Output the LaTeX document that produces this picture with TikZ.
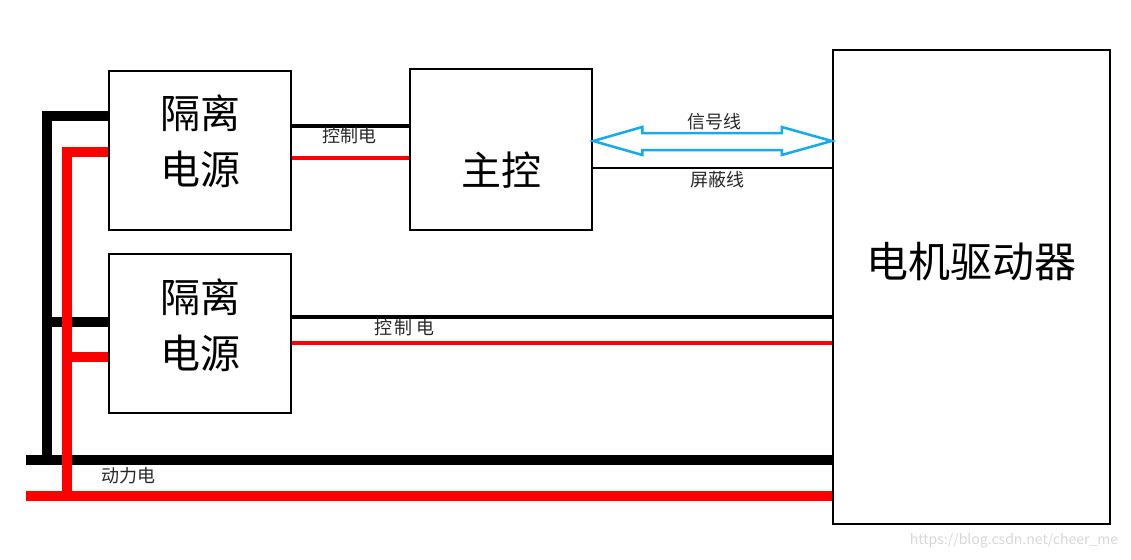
\documentclass[tikz,border=0pt]{standalone}
\usepackage{fontspec}
\newfontfamily\cjk{Noto Sans CJK SC}
\usetikzlibrary{calc}
\definecolor{sig}{RGB}{20,170,235}
\definecolor{wm}{RGB}{215,215,215}
\definecolor{lbl}{RGB}{40,40,40}
\begin{document}
\begin{tikzpicture}[x=1pt,y=-1pt,
  box/.style={draw, line width=2.5pt, inner sep=0pt, fill=white},
  big/.style={font=\cjk\fontsize{40}{56}\selectfont, align=center, inner sep=0pt},
  small/.style={font=\cjk\fontsize{18}{20}\selectfont, text=lbl, inner sep=0pt},
  heavy/.style={line width=10pt, line join=miter},
  ctl/.style={line width=4pt}]
\useasboundingbox (0,0) rectangle (1131,559);

% boxes
\node[box, minimum width=182pt, minimum height=159pt] (iso1) at (200,150.5) {};
\node[box, minimum width=182pt, minimum height=159pt] (iso2) at (200,333.5) {};
\node[box, minimum width=182pt, minimum height=161pt] (main) at (501,149.5) {};
\node[box, minimum width=277pt, minimum height=474pt] (motor) at (971.5,287) {};

\node[big] (iso1t) at ([yshift=9.5pt]iso1.center) {隔离\\电源};
\node[big] (iso2t) at ([yshift=8pt]iso2.center) {隔离\\电源};
\node[big] (maint) at ([yshift=-21pt]main.center) {主控};
\node[big, font=\cjk\fontsize{42}{50}\selectfont] (motort) at ([yshift=25pt]motor.center) {电机驱动器};

% trunk coordinates
\coordinate (kx) at (47,116);
\coordinate (kb) at (26,460);
\coordinate (rx) at (67,152);
\coordinate (rb) at (26,496);
\coordinate (k2) at (47,322);
\coordinate (r2) at (67,357);

% black power
\draw[heavy] (iso1.west |- kx) -- (kx) -- (kx |- kb);
\draw[heavy] (kb) -- (motor.west |- kb);
\draw[heavy] (k2) -- (iso2.west |- k2);
% red power
\draw[heavy, red] (iso1.west |- rx) -- (rx) -- (rx |- rb);
\draw[heavy, red] (rb) -- (motor.west |- rb);
\draw[heavy, red] (r2) -- (iso2.west |- r2);

% control wires
\draw[ctl] (iso1.east |- 0,126) -- (main.west |- 0,126);
\draw[ctl, red] (iso1.east |- 0,158) -- (main.west |- 0,158);
\draw[ctl] (iso2.east |- 0,317) -- (motor.west |- 0,317);
\draw[ctl, red] (iso2.east |- 0,343) -- (motor.west |- 0,343);

% shield wire
\draw[line width=2pt] (main.east |- 0,168) -- (motor.west |- 0,168);

% signal double arrow
\coordinate (aL) at (main.east |- 0,141);
\coordinate (aR) at (motor.west |- 0,141);
\draw[sig, line width=2.5pt, line join=miter, fill=white]
  (aL) -- ($(aL)+(49,-14)$) -- ($(aL)+(49,-8)$) -- ($(aR)+(-50,-8)$) -- ($(aR)+(-50,-14)$)
  -- (aR) -- ($(aR)+(-50,14)$) -- ($(aR)+(-50,9)$) -- ($(aL)+(49,9)$) -- ($(aL)+(49,14)$) -- cycle;

% labels
\node[small] (l1) at (349,136) {控制电};
\node[small] (l2) at (404,328) {控\hspace{3pt}制\hspace{3pt}电};
\node[small] (l3) at (714,122) {信号线};
\node[small] (l4) at (717,180) {屏蔽线};
\node[small] (l5) at (128,476) {动力电};
\node[font=\cjk\fontsize{14}{16}\selectfont, text=wm, inner sep=0pt] (wmk) at (1014,541) {https://blog.csdn.net/cheer\_me};
\end{tikzpicture}
\end{document}
